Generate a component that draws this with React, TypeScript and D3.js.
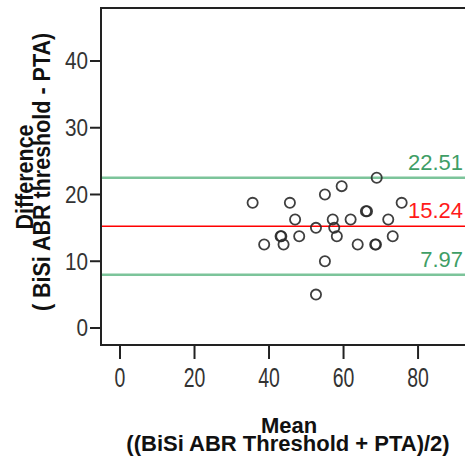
import React from "react";
import * as d3 from "d3";

const meanVals = [35.6, 45.6, 55.0, 59.5, 68.9, 75.6, 66.0, 66.3, 47.0, 57.1, 61.9, 72.0, 52.6, 57.5, 43.1, 43.3, 48.1, 58.2, 73.2, 38.7, 43.9, 63.8, 68.5, 68.7, 55.0, 52.6];
const diffVals = [18.75, 18.75, 20, 21.25, 22.5, 18.75, 17.5, 17.5, 16.25, 16.25, 16.25, 16.25, 15, 15, 13.75, 13.75, 13.75, 13.75, 13.75, 12.5, 12.5, 12.5, 12.5, 12.5, 10, 5];
const xTicks = [0, 20, 40, 60, 80];
const yTicks = [0, 10, 20, 30, 40];
const meanDiff = 15.24;
const upperLoA = 22.51;
const lowerLoA = 7.97;

export default function App() {
  const W = 465, H = 464;
  const left = 101, right = 465, top = 8, bottom = 345;
  const x = d3.scaleLinear().domain([-5.1, 92.6]).range([left, right]);
  const y = d3.scaleLinear().domain([-2.55, 47.94]).range([bottom, top]);
  const font = "'Liberation Sans', Arial, sans-serif";
  const green = "#7cc49a";
  const greenText = "#3f9e66";
  const lines = [
    { v: upperLoA, color: green, tcolor: greenText, w: 2.5 },
    { v: meanDiff, color: "#ff0000", tcolor: "#ff1a1a", w: 1.6 },
    { v: lowerLoA, color: green, tcolor: greenText, w: 2.5 },
  ];
  return (
    <svg width={W} height={H} style={{ position: "absolute", left: 0, top: 0, background: "#fff" }} fontFamily={font}>
      <rect x={0} y={0} width={W} height={H} fill="#fff" />
      {lines.map((l, i) => (
        <g key={i}>
          <line x1={left} x2={right} y1={y(l.v)} y2={y(l.v)} stroke={l.color} strokeWidth={l.w} />
          <text x={463} y={y(l.v) - 8} textAnchor="end" fontSize={22} fill={l.tcolor}>
            {l.v.toFixed(2)}
          </text>
        </g>
      ))}
      {meanVals.map((m, i) => (
        <circle key={i} cx={x(m)} cy={y(diffVals[i])} r={5.1} fill="none" stroke="#2a2a2a" strokeWidth={1.8} strokeOpacity={0.9} />
      ))}
      {/* frame */}
      <path d={`M${right},${top}H${left}V${bottom}H${right}`} fill="none" stroke="#222" strokeWidth={2} />
      {yTicks.map((t) => (
        <g key={t}>
          <line x1={90} x2={left} y1={y(t)} y2={y(t)} stroke="#222" strokeWidth={2} />
          <text x={88} y={y(t)} dy="0.36em" textAnchor="end" fontSize={23} fill="#333" transform={`translate(88,0) scale(0.9,1) translate(-88,0)`}>
            {t}
          </text>
        </g>
      ))}
      {xTicks.map((t) => (
        <g key={t}>
          <line x1={x(t)} x2={x(t)} y1={bottom} y2={359} stroke="#222" strokeWidth={2} />
          <text x={x(t)} y={387} textAnchor="middle" fontSize={27} fill="#333" transform={`translate(${x(t)},0) scale(0.72,1) translate(${-x(t)},0)`}>
            {t}
          </text>
        </g>
      ))}
      <text x={289} y={433} textAnchor="middle" fontSize={22} fontWeight="bold" fill="#111">Mean</text>
      <text x={288} y={451} textAnchor="middle" fontSize={22} fontWeight="bold" fill="#111">((BiSi ABR Threshold + PTA)/2)</text>
      <text transform="translate(33,177) rotate(-90) scale(1,1.15)" textAnchor="middle" fontSize={21.5} fontWeight="bold" fill="#111">Difference</text>
      <text transform="translate(50,172) rotate(-90) scale(1,1.1)" textAnchor="middle" fontSize={21.5} fontWeight="bold" fill="#111">( BiSi ABR threshold - PTA)</text>
    </svg>
  );
}
